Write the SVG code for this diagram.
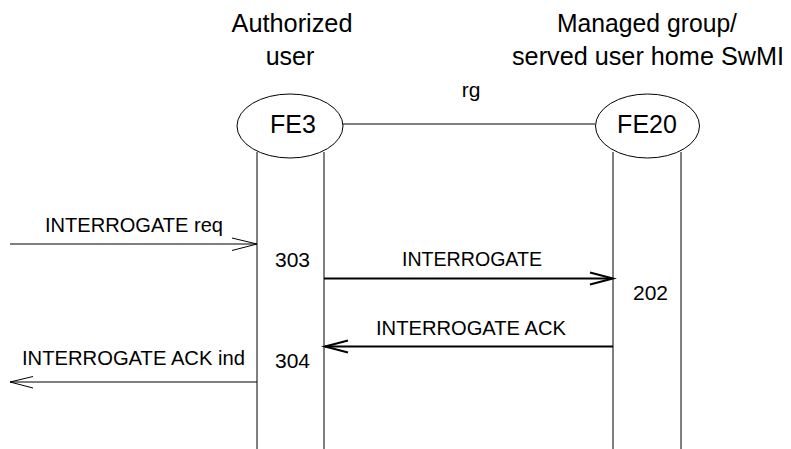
<svg xmlns="http://www.w3.org/2000/svg" width="791" height="449" viewBox="0 0 791 449">
  <style>
    text { font-family: "Liberation Sans", Arial, sans-serif; fill: #000; }
    .title { font-size: 25px; text-anchor: middle; }
    .fe { font-size: 25px; text-anchor: middle; }
    .msg { font-size: 21px; }
    .num { font-size: 21px; }
    .thin { stroke: #000; stroke-width: 1; fill: none; }
    .thick { stroke: #000; stroke-width: 2; fill: none; }
    .node { fill: #fff; stroke: #000; stroke-width: 1; }
  </style>
  <rect width="791" height="449" fill="#fff"/>

  <g id="title-fe3">
    <text class="title" x="292" y="32" textLength="121" lengthAdjust="spacingAndGlyphs">Authorized</text>
    <text class="title" x="290" y="65">user</text>
  </g>
  <g id="title-fe20">
    <text class="title" x="647" y="32" textLength="180" lengthAdjust="spacingAndGlyphs">Managed group/</text>
    <text class="title" x="648" y="65" textLength="272" lengthAdjust="spacingAndGlyphs">served user home SwMI</text>
  </g>

  <g id="connectors">
    <line class="thin" x1="257" y1="152" x2="257" y2="449"/>
    <line class="thin" x1="324" y1="152" x2="324" y2="449"/>
    <line class="thin" x1="613" y1="152" x2="613" y2="449"/>
    <line class="thin" x1="681" y1="152" x2="681" y2="449"/>
    <line class="thin" x1="343" y1="124" x2="595" y2="124"/>
    <text class="msg" x="471" y="97" text-anchor="middle">rg</text>

    <line class="thin" x1="10" y1="244" x2="257" y2="244"/>
    <polyline class="thin" points="232,238 257,244 232,250.5"/>
    <text class="msg" x="45" y="232" textLength="178" lengthAdjust="spacingAndGlyphs">INTERROGATE req</text>

    <line class="thick" x1="324" y1="278.5" x2="612" y2="278.5"/>
    <polyline class="thick" points="590,272.5 613,278.5 590,284.5"/>
    <text class="msg" x="402" y="266" textLength="140" lengthAdjust="spacingAndGlyphs">INTERROGATE</text>

    <line class="thick" x1="613" y1="346.5" x2="325" y2="346.5"/>
    <polyline class="thick" points="348,340.5 325,346.5 348,352.5"/>
    <text class="msg" x="376" y="335" textLength="190" lengthAdjust="spacingAndGlyphs">INTERROGATE ACK</text>

    <line class="thin" x1="257" y1="382" x2="10" y2="382"/>
    <polyline class="thin" points="33,376.5 10,382 33,388"/>
    <text class="msg" x="22" y="365" textLength="223" lengthAdjust="spacingAndGlyphs">INTERROGATE ACK ind</text>
  </g>

  <g id="fe3">
    <ellipse class="node" cx="290" cy="126" rx="53" ry="32"/>
    <text class="fe" x="293" y="133">FE3</text>
  </g>
  <g id="fe20">
    <ellipse class="node" cx="647.5" cy="126" rx="52" ry="32"/>
    <text class="fe" x="647" y="133">FE20</text>
  </g>

  <g id="labels">
    <text class="num" x="275" y="267">303</text>
    <text class="num" x="633" y="300">202</text>
    <text class="num" x="275" y="368">304</text>
  </g>
</svg>
